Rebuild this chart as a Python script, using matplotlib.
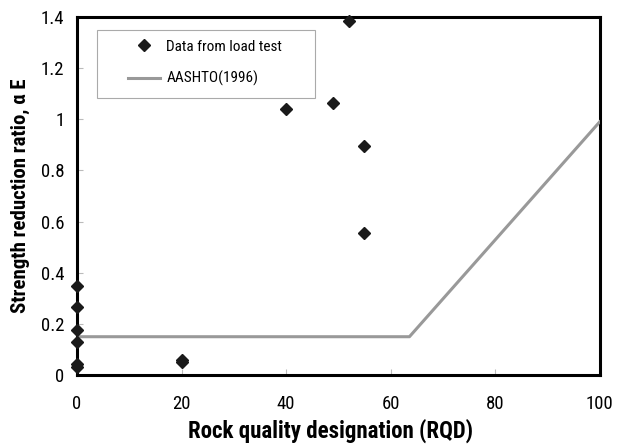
import matplotlib
matplotlib.use("Agg")
import matplotlib.pyplot as plt
from matplotlib.patches import Rectangle

plt.rcParams['font.family'] = ['Roboto Condensed', 'Liberation Sans', 'DejaVu Sans']

# Load test results: RQD vs strength reduction ratio
rqd_test = [0, 0, 0, 0, 0, 0, 20, 20, 40, 49, 52, 55, 55]
alpha_test = [0.35, 0.265, 0.175, 0.13, 0.045, 0.03, 0.05, 0.06, 1.04, 1.065, 1.385, 0.895, 0.555]

# AASHTO (1996) design relation
rqd_aashto = [0, 63.6, 100]
alpha_aashto = [0.15, 0.15, 0.99]

x_ticks = [0, 20, 40, 60, 80, 100]
y_ticks = [0, 0.2, 0.4, 0.6, 0.8, 1.0, 1.2, 1.4]
y_tick_labels = ['0', '0.2', '0.4', '0.6', '0.8', '1', '1.2', '1.4']

fig = plt.figure(figsize=(6.26, 4.46), dpi=100)
ax = fig.add_axes([0.123, 0.159, 0.835, 0.803])

ax.plot(rqd_test, alpha_test, linestyle='none', marker='D', markersize=6,
        color='#1a1a1a', label='Data from load test', clip_on=False, zorder=5)
ax.plot(rqd_aashto, alpha_aashto, color='#999999', linewidth=2.2,
        label='AASHTO(1996)', zorder=3)

ax.set_xlim(0, 100)
ax.set_ylim(0, 1.4)
ax.set_xticks(x_ticks)
ax.set_yticks(y_ticks)
ax.set_yticklabels(y_tick_labels)
ax.tick_params(direction='in', length=4, width=0.8, color='#bbbbbb',
               labelsize=13.5, pad=9)
ax.tick_params(axis='x', pad=14)
for s in ax.spines.values():
    s.set_linewidth(2.2)
    s.set_color('black')

ax.set_xlabel('Rock quality designation (RQD)', fontsize=16.5, fontweight='bold')
ax.xaxis.set_label_coords(0.485, -0.122)
ax.set_ylabel('Strength reduction ratio, α E', fontsize=15, fontweight='bold', labelpad=8)

# legend frame drawn separately to give a wide left margin
ax.add_patch(Rectangle((0.038, 0.774), 0.417, 0.19, transform=ax.transAxes,
                       facecolor='white', edgecolor='#aaaaaa', linewidth=0.8, zorder=6))
leg = ax.legend(loc='upper left', bbox_to_anchor=(0.0975, 0.937), fontsize=11,
                frameon=False, borderpad=0, labelspacing=1.15, handlelength=2.1,
                handletextpad=0.4, borderaxespad=0)
leg.set_zorder(7)

fig.savefig('out.png', dpi=100)
